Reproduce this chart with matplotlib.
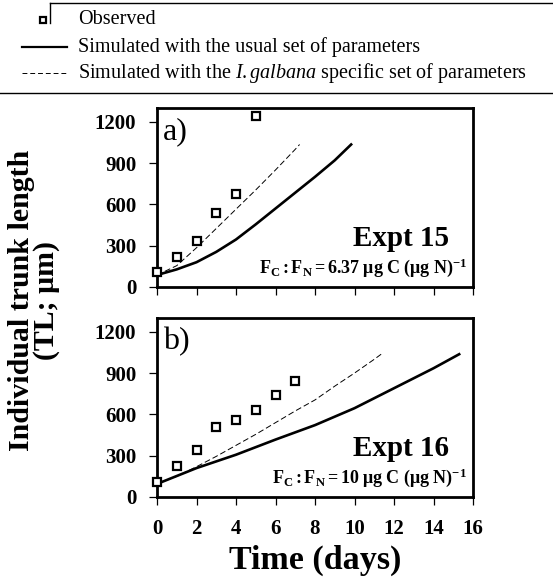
import matplotlib.pyplot as plt
from matplotlib.lines import Line2D

plt.rcParams['font.family'] = ['Liberation Serif', 'DejaVu Serif']
plt.rcParams['mathtext.fontset'] = 'custom'
plt.rcParams['mathtext.rm'] = 'Liberation Serif'
plt.rcParams['mathtext.bf'] = 'Liberation Serif:bold'
plt.rcParams['mathtext.it'] = 'Liberation Serif:italic'

# Expt 15 (panel a)
obs_days_a = [0, 1, 2, 3, 4, 5]
obs_tl_a = [111, 220, 334, 538, 676, 1244]
usual_days_a = [0, 1, 2, 3, 4, 5, 6, 7, 8, 9, 9.83]
usual_tl_a = [87, 128, 180, 255, 345, 455, 570, 685, 800, 920, 1035]
spec_days_a = [0, 1, 2, 3, 4, 5, 6, 7, 7.22]
spec_tl_a = [87, 155, 285, 425, 565, 705, 850, 1000, 1035]

# Expt 16 (panel b)
obs_days_b = [0, 1, 2, 3, 4, 5, 6, 7]
obs_tl_b = [112, 227, 344, 507, 558, 631, 741, 839]
usual_days_b = [0, 2, 4, 6, 8, 10, 12, 14, 15.3]
usual_tl_b = [95, 210, 307, 417, 522, 645, 790, 935, 1037]
spec_days_b = [0, 1, 2, 3, 4, 5, 6, 7, 8, 9, 10, 11, 11.35]
spec_tl_b = [95, 150, 220, 295, 375, 455, 540, 625, 705, 805, 900, 1000, 1037]

yticks = [0, 300, 600, 900, 1200]
xticks = [0, 2, 4, 6, 8, 10, 12, 14, 16]

W, H = 553, 580
fig = plt.figure(figsize=(W / 100, H / 100), dpi=100)


def px(x, y):
    return x / W, 1 - y / H


panels = [
    (108, 287, obs_days_a, obs_tl_a, usual_days_a, usual_tl_a, spec_days_a, spec_tl_a,
     'a)', 'Expt 15', r'$\mathbf{F_C : F_N =6.37\ μg\ C\ (μg\ N)^{-1}}$', False),
    (318, 497, obs_days_b, obs_tl_b, usual_days_b, usual_tl_b, spec_days_b, spec_tl_b,
     'b)', 'Expt 16', r'$\mathbf{F_C : F_N = 10\ μg\ C\ (μg\ N)^{-1}}$', True),
]

for top, bot, od, ot, ud, ut, sd, st, lab, expt, ratio, show_x in panels:
    ax = fig.add_axes([157 / W, 1 - bot / H, (473 - 157) / W, (bot - top) / H])
    ax.plot(ud, ut, color='black', lw=1.9, zorder=3)
    ax.plot(sd, st, color='black', lw=0.7, dashes=(6, 3), zorder=2)
    ax.plot(od, ot, ls='none', marker='s', ms=5.5, mfc='white', mec='black', mew=1.6,
            zorder=4, clip_on=False)
    ax.set_xlim(0, 16)
    ax.set_ylim(0, 1300)
    ax.set_xticks(xticks)
    ax.set_yticks(yticks)
    for s in ax.spines.values():
        s.set_linewidth(2.0)
    ax.tick_params(direction='out', length=6, width=0.9, pad=9)
    for t in ax.get_yticklabels() + ax.get_xticklabels():
        t.set_fontweight('bold')
        t.set_fontsize(15)
    if not show_x:
        ax.set_xticklabels([])
    else:
        ax.tick_params(axis='x', pad=10)
    ax.text(0.02, 0.95, lab, transform=ax.transAxes, fontsize=23, va='top', ha='left')
    ex, ey = px(401, top + 130)
    fig.text(ex, ey, expt, fontsize=21, fontweight='bold', ha='center', va='center')
    rx, ry = px(467, top + 160)
    fig.text(rx, ry, ratio, fontsize=13, ha='right', va='center')

# axis labels
x, y = px(34, 300)
fig.text(x, y, 'Individual trunk length\n(TL; μm)', rotation=90, fontsize=21.5,
         fontweight='bold', ha='center', va='center', multialignment='center',
         linespacing=0.9)
x, y = px(315, 560)
fig.text(x, y, 'Time (days)', fontsize=24.5, fontweight='bold', ha='center', va='center')

# legend
fs = 14.5
fig.add_artist(Line2D([43 / W], [1 - 20 / H], marker='s', ms=5, mfc='white', mec='black',
                      mew=1.6, ls='none', transform=fig.transFigure))
fig.add_artist(Line2D([22 / W, 67 / W], [1 - 47 / H] * 2, color='black', lw=1.6,
                      transform=fig.transFigure))
fig.add_artist(Line2D([22 / W, 67 / W], [1 - 73 / H] * 2, color='black', lw=0.7,
                      dashes=(5, 3), transform=fig.transFigure))
fig.text(78 / W, 1 - 20 / H, 'Observed', fontsize=fs, va='center')
fig.text(78 / W, 1 - 47 / H, 'Simulated with the usual set of parameters', fontsize=fs,
         va='center')
fig.text(78 / W, 1 - 73 / H,
         r'Simulated with the $\mathit{I.galbana}$ specific set of parameters',
         fontsize=fs, va='center')
fig.add_artist(Line2D([50 / W, 1], [1 - 3 / H] * 2, color='black', lw=1.0,
                      transform=fig.transFigure))
fig.add_artist(Line2D([50 / W] * 2, [1 - 3 / H, 1 - 23 / H], color='black', lw=1.0,
                      transform=fig.transFigure))
fig.add_artist(Line2D([0, 1], [1 - 93 / H] * 2, color='black', lw=1.0,
                      transform=fig.transFigure))

fig.savefig('out.png', dpi=100)
